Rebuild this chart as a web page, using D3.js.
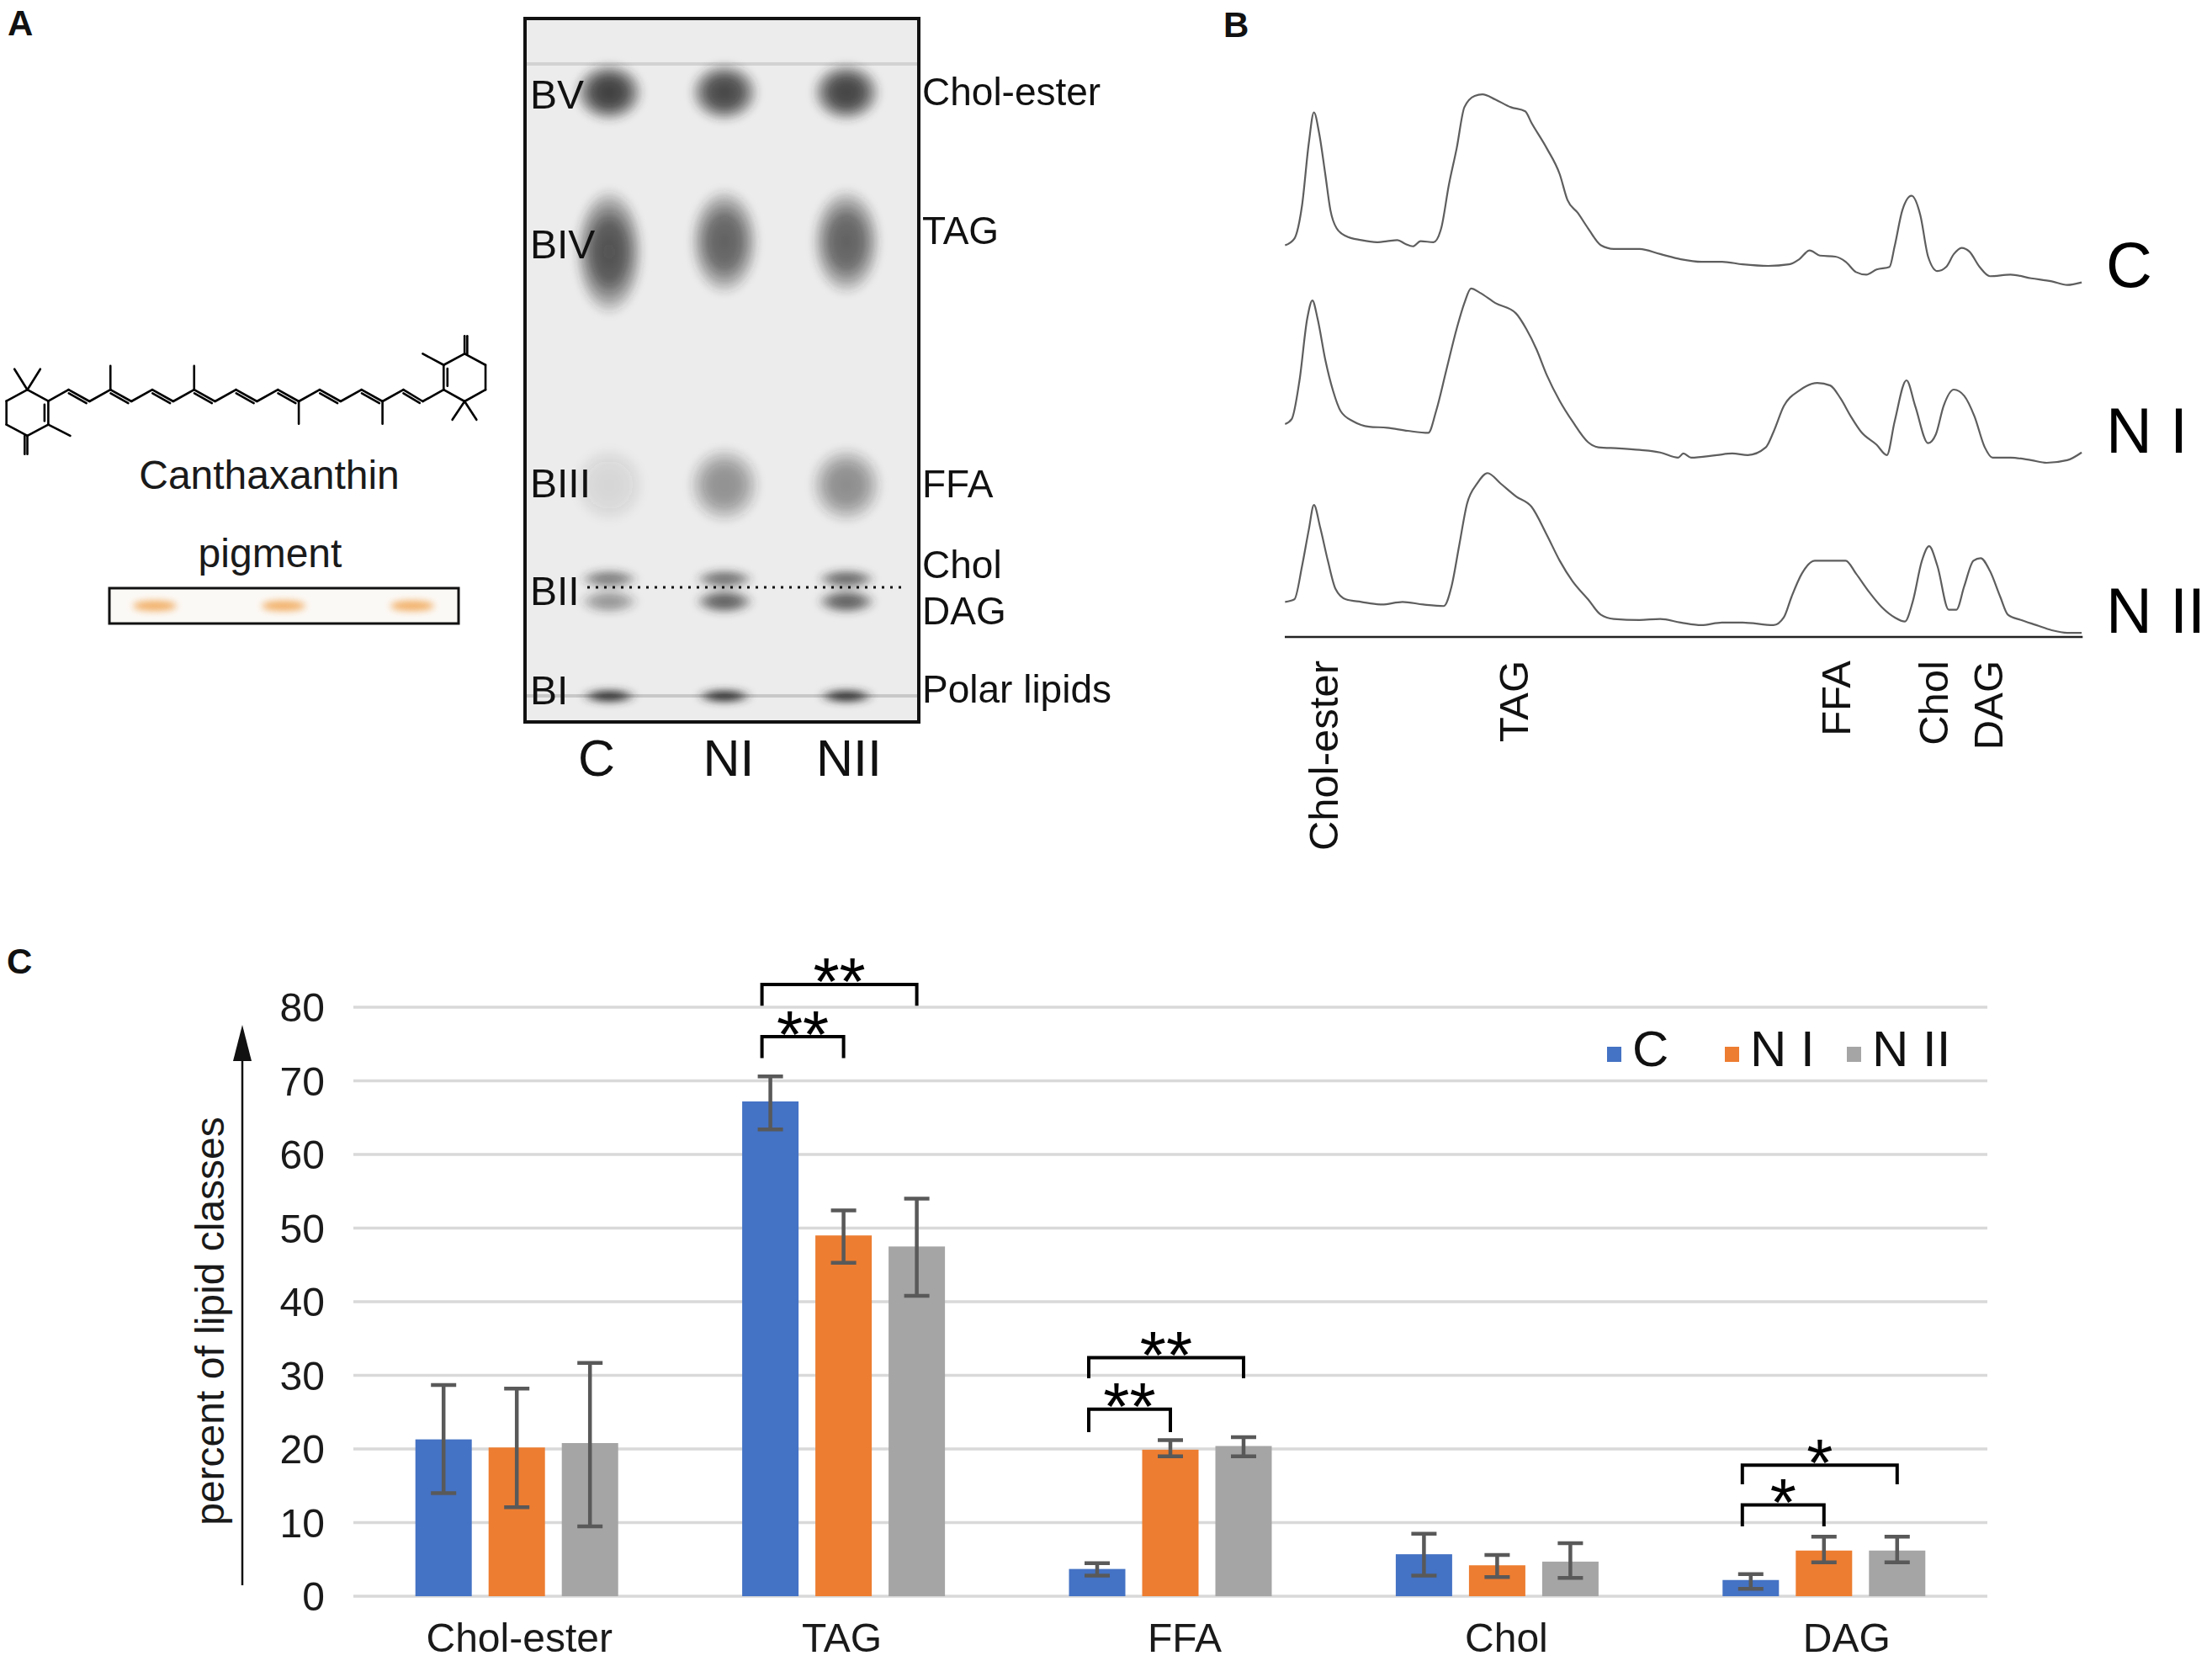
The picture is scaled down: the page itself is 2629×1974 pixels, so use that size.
<!DOCTYPE html>
<html><head><meta charset="utf-8">
<script src="https://cdn.jsdelivr.net/npm/d3@7"></script>
<style>
body{margin:0;background:#fff}
svg{display:block}
text{font-family:"Liberation Sans",Arial,Helvetica,sans-serif}
</style>
</head><body>
<svg id="fig" width="2629" height="1974" viewBox="0 0 2629 1974"></svg>
<script>
// ================= DATA =================
// ---- Panel C: bar chart ----
const categories = ["Chol-ester", "TAG", "FFA", "Chol", "DAG"];
const groups = ["C", "N I", "N II"];
const meanC   = [21.3, 67.2, 3.7, 5.7, 2.2];
const meanNI  = [20.2, 49.0, 19.9, 4.2, 6.2];
const meanNII = [20.8, 47.5, 20.4, 4.7, 6.2];
const lowC    = [14.0, 63.4, 2.8, 2.8, 1.0];
const highC   = [28.7, 70.6, 4.5, 8.5, 3.0];
const lowNI   = [12.1, 45.3, 19.0, 2.6, 4.6];
const highNI  = [28.2, 52.4, 21.2, 5.6, 8.1];
const lowNII  = [9.5, 40.8, 19.0, 2.5, 4.6];
const highNII = [31.7, 54.0, 21.6, 7.2, 8.1];
const yTicks = [0, 10, 20, 30, 40, 50, 60, 70, 80];
const yTitle = "percent of lipid classes";
// significance brackets (C vs group)
const sigCategory = ["TAG", "TAG", "FFA", "FFA", "DAG", "DAG"];
const sigTarget   = ["N I", "N II", "N I", "N II", "N I", "N II"];
const sigLevel    = [76.0, 83.1, 25.4, 32.4, 12.4, 17.8];
const sigLegLow   = [73.1, 80.2, 22.3, 29.6, 9.5, 15.2];
const sigLabel    = ["**", "**", "**", "**", "*", "*"];

// ---- Panel B: densitometry traces (migration units, signal above own baseline) ----
const traceNames = ["C", "N I", "N II"];
const traceBaseline = [760, 410, 68];
const traceCx = [12,30,45,58,68,78,90,100,112,130,160,190,210,230,245,260,275,300,315,330,345,360,380,395,420,450,478,490,520,545,560,580,600,625,650,700,740,780,820,860,900,950,990,1010,1030,1050,1080,1100,1120,1140,1160,1185,1195,1210,1228,1245,1260,1278,1295,1310,1325,1340,1360,1380,1420,1460,1500,1530,1558];
const traceCy = [0,13,78,198,258,218,138,68,33,18,10,6,8,10,3,-2,8,6,33,118,188,268,290,293,283,268,260,238,188,138,88,63,33,0,-7,-7,-17,-27,-32,-32,-37,-40,-37,-27,-10,-20,-22,-32,-52,-57,-47,-42,-2,68,96,58,-22,-50,-42,-17,-5,-12,-42,-60,-57,-64,-70,-77,-72];
const traceNIx = [12,25,40,55,65,75,90,105,120,145,175,210,250,290,305,325,345,360,373,390,420,460,480,500,520,545,570,600,620,660,700,740,775,785,800,850,880,910,945,960,980,1010,1045,1070,1090,1110,1130,1160,1180,1195,1218,1235,1260,1275,1290,1310,1330,1350,1370,1385,1420,1460,1490,1530,1558];
const traceNIy = [3,13,88,208,243,208,128,68,28,8,-2,-4,-10,-14,28,108,188,238,266,258,238,218,188,148,98,48,8,-32,-42,-44,-47,-52,-62,-54,-62,-57,-54,-57,-42,-12,38,68,83,78,53,18,-12,-37,-57,8,88,38,-34,-17,38,70,58,18,-42,-62,-62,-67,-72,-67,-52];
const traceNIIx = [12,30,45,58,68,80,95,110,130,160,200,240,280,320,335,350,365,385,405,430,460,490,520,545,570,600,625,650,700,740,780,820,860,900,960,980,995,1015,1040,1070,1100,1120,1145,1170,1195,1215,1230,1248,1262,1278,1300,1315,1330,1348,1362,1380,1400,1415,1440,1470,1500,1530,1558];
const traceNIIy = [0,5,70,140,188,145,80,25,5,0,-5,0,-5,-8,30,110,190,230,250,230,205,185,130,80,40,5,-25,-33,-35,-33,-40,-45,-40,-40,-45,-30,10,55,80,80,80,55,20,-10,-30,-38,0,80,108,70,-15,-15,30,80,85,60,10,-25,-35,-45,-55,-60,-60];
const traceLabels = ["Chol-ester", "TAG", "FFA", "Chol", "DAG"];
const traceLabelPos = [85, 455, 1080, 1270, 1375];

// ---- Panel A: TLC plate ----
const lanes = ["C", "NI", "NII"];
const tlcBands = ["Chol-ester", "TAG", "FFA", "Chol", "DAG", "Polar lipids"];
const tlcRf = [0.955, 0.718, 0.332, 0.183, 0.147, -0.003];
const tlcIntensityC   = [0.92, 0.82, 0.12, 0.58, 0.45, 1.00];
const tlcIntensityNI  = [0.88, 0.74, 0.48, 0.64, 0.74, 1.00];
const tlcIntensityNII = [0.90, 0.74, 0.50, 0.68, 0.74, 1.00];
const tlcLeftLabels = ["BV", "BIV", "BIII", "BII", "BI"];
const tlcLeftRf = [0.952, 0.714, 0.336, 0.165, 0.007];
const tlcRightRf = [0.957, 0.736, 0.334, 0.206, 0.133, 0.009];
const pigmentLanes = ["C", "NI", "NII"];

// ---- Canthaxanthin skeletal structure (drawing units) ----
const atomIds = ["a1","a2","a3","a4","a5","a6","m1","m2","m0","o1",
  "c1","c2","c3","m3","c4","c5","c6","c7","m4","c8","c9","c10","c11","c12","m5","c13","c14","c15","c16","m6","c17","c18",
  "b2","b3","b4","b5","b6","b1","m7","o2","g1","g2"];
const atomX = [85,150,150,85,20,20,45,125,218,85,
  213,278,343,343,408,473,538,603,603,668,733,798,863,928,928,993,1058,1123,1188,1188,1253,1313,
  1378,1378,1443,1508,1508,1443,1313,1443,1405,1480];
const atomY = [322,357,430,465,430,357,258,258,465,522,
  322,358,322,248,358,322,358,322,248,358,322,358,322,358,428,322,358,322,358,428,322,358,
  322,245,210,245,322,358,210,155,415,415];
const bondFrom = ["a1","a2","a3","a4","a5","a6","a1","a1","a3","a4","a2","c1","c2","c3","c3","c4","c5","c6","c7","c7","c8","c9","c10","c11","c12","c12","c13","c14","c15","c16","c16","c17","c18","b2","b3","b4","b5","b6","b1","b3","b4","b1","b1"];
const bondTo   = ["a2","a3","a4","a5","a6","a1","m1","m2","m0","o1","c1","c2","c3","m3","c4","c5","c6","c7","m4","c8","c9","c10","c11","c12","m5","c13","c14","c15","c16","m6","c17","c18","b2","b3","b4","b5","b6","b1","b2","m7","o2","g1","g2"];
const bondOrder= [1,2,1,1,1,1,1,1,1,2,1,2,1,1,2,1,2,1,1,2,1,2,1,2,1,1,2,1,2,1,1,2,1,2,1,1,1,1,1,1,2,1,1];

// ================= DRAWING =================
const svg = d3.select("#fig");
const defs = svg.append("defs");
function blur(id, s) {
  defs.append("filter").attr("id", id)
    .attr("x", "-100%").attr("y", "-200%").attr("width", "300%").attr("height", "500%")
    .append("feGaussianBlur").attr("stdDeviation", s);
}
blur("bl4", 4);
defs.append("filter").attr("id", "soft").attr("filterUnits", "userSpaceOnUse")
  .attr("x", 600).attr("y", 0).attr("width", 520).attr("height", 900)
  .append("feGaussianBlur").attr("stdDeviation", 4);
// soft spot gradient
const grad = defs.append("radialGradient").attr("id", "spot");
[[0, 1], [0.45, 0.9], [0.75, 0.45], [1, 0]].forEach(([o, a]) =>
  grad.append("stop").attr("offset", o).attr("stop-color", "#2e2e2e").attr("stop-opacity", a));

function label(g, txt, x, y, size, opts = {}) {
  return g.append("text").attr("x", x).attr("y", y)
    .attr("font-size", size).attr("fill", opts.fill || "#111")
    .attr("font-weight", opts.weight || "normal")
    .attr("text-anchor", opts.anchor || "start")
    .text(txt);
}

// Panel letters
const panelLetters = svg.append("g");
label(panelLetters, "A", 9, 42, 42, {weight: "bold"});
label(panelLetters, "B", 1454, 44, 42, {weight: "bold"});
label(panelLetters, "C", 8, 1157, 42, {weight: "bold"});

// ---------- Panel A ----------
const gA = svg.append("g");
// molecule
const mx = d3.scaleLinear().domain([0, 1568]).range([0, 600]);
const my = d3.scaleLinear().domain([0, 1568]).range([340, 940]);
const atomIndex = new Map(atomIds.map((id, i) => [id, i]));
const ringCenters = {a: [85, 393], b: [1443, 284]};
const gMol = gA.append("g").attr("stroke", "#000").attr("stroke-width", 2.6).attr("stroke-linecap", "round");
bondFrom.forEach((f, k) => {
  const i = atomIndex.get(f), j = atomIndex.get(bondTo[k]);
  const x1 = mx(atomX[i]), y1 = my(atomY[i]), x2 = mx(atomX[j]), y2 = my(atomY[j]);
  gMol.append("line").attr("x1", x1).attr("y1", y1).attr("x2", x2).attr("y2", y2);
  if (bondOrder[k] === 2) {
    const dx = x2 - x1, dy = y2 - y1, L = Math.hypot(dx, dy);
    let nx = -dy / L, ny = dx / L;
    const isRing = (f[0] === "a" || f[0] === "b") && (bondTo[k][0] === "a" || bondTo[k][0] === "b");
    const isCO = bondTo[k][0] === "o";
    let off, shrink;
    if (isRing) {
      const c = ringCenters[f[0]];
      const mxp = (x1 + x2) / 2, myp = (y1 + y2) / 2;
      const toC = [mx(c[0]) - mxp, my(c[1]) - myp];
      if (nx * toC[0] + ny * toC[1] < 0) { nx = -nx; ny = -ny; }
      off = 4.5; shrink = 0.15;
    } else if (isCO) {
      off = 3.2; shrink = 0.0;
    } else {
      if (ny < 0) { nx = -nx; ny = -ny; }
      off = 3.6; shrink = 0.08;
    }
    gMol.append("line")
      .attr("x1", x1 + nx * off + dx * shrink).attr("y1", y1 + ny * off + dy * shrink)
      .attr("x2", x2 + nx * off - dx * shrink).attr("y2", y2 + ny * off - dy * shrink);
  }
});
label(gA, "Canthaxanthin", 320, 581, 48, {anchor: "middle", fill: "#1a1a1a"});
label(gA, "pigment", 321, 674, 48, {anchor: "middle", fill: "#1a1a1a"});
// pigment strip
const pigX = d3.scalePoint().domain(pigmentLanes).range([184, 490]);
gA.append("rect").attr("x", 130).attr("y", 699).attr("width", 415).attr("height", 42)
  .attr("fill", "#fbf9f6").attr("stroke", "#111").attr("stroke-width", 3);
gA.append("g").selectAll("ellipse").data(pigmentLanes).join("ellipse")
  .attr("cx", d => pigX(d)).attr("cy", 720).attr("rx", 26).attr("ry", 6)
  .attr("fill", "#f0a048").attr("opacity", 0.85).attr("filter", "url(#bl4)");

// TLC plate
const rf = d3.scaleLinear().domain([0, 1]).range([825, 76]);
const laneX = d3.scaleOrdinal().domain(lanes).range([724, 861, 1006]);
gA.append("rect").attr("x", 624).attr("y", 22).attr("width", 468).attr("height", 836)
  .attr("fill", "#ececec");
gA.append("line").attr("x1", 626).attr("x2", 1090).attr("y1", rf(1)).attr("y2", rf(1))
  .attr("stroke", "#d2d2d2").attr("stroke-width", 4);
gA.append("line").attr("x1", 626).attr("x2", 1090).attr("y1", rf(0) + 2).attr("y2", rf(0) + 2)
  .attr("stroke", "#c8c8c8").attr("stroke-width", 4);
const spotShape = {
  "Chol-ester":   {rx: 42, ry: 36, dy: 0},
  "TAG":          {rx: 42, ry: 64, dy: 0},
  "FFA":          {rx: 44, ry: 46, dy: 0},
  "Chol":         {rx: 36, ry: 12, dy: 0},
  "DAG":          {rx: 36, ry: 15, dy: 0},
  "Polar lipids": {rx: 34, ry: 9, dy: 0}
};
const intensities = {C: tlcIntensityC, NI: tlcIntensityNI, NII: tlcIntensityNII};
const spots = [];
lanes.forEach(l => tlcBands.forEach((b, i) => spots.push({lane: l, band: b, rf: tlcRf[i], v: intensities[l][i]})));
const tall = d => (d.band === "TAG" && d.lane === "C") ? 12 : 0;
gA.append("g").attr("filter", "url(#soft)").selectAll("ellipse").data(spots).join("ellipse")
  .attr("cx", d => laneX(d.lane))
  .attr("cy", d => rf(d.rf) + spotShape[d.band].dy + tall(d))
  .attr("rx", d => spotShape[d.band].rx)
  .attr("ry", d => spotShape[d.band].ry + tall(d))
  .attr("fill", "url(#spot)")
  .attr("opacity", d => d.v);
gA.append("rect").attr("x", 624).attr("y", 22).attr("width", 468).attr("height", 836)
  .attr("fill", "none").attr("stroke", "#111").attr("stroke-width", 4);
// dotted line through BII
gA.append("line").attr("x1", 698).attr("x2", 1072).attr("y1", 698).attr("y2", 698)
  .attr("stroke", "#111").attr("stroke-width", 3).attr("stroke-dasharray", "3,7");
// band labels
gA.append("g").selectAll("text").data(tlcLeftLabels).join("text")
  .attr("x", 630).attr("y", (d, i) => rf(tlcLeftRf[i])).attr("dy", "0.36em")
  .attr("font-size", 48).attr("fill", "#111").text(d => d);
gA.append("g").selectAll("text").data(tlcBands).join("text")
  .attr("x", 1096).attr("y", (d, i) => rf(tlcRightRf[i])).attr("dy", "0.36em")
  .attr("font-size", 46).attr("fill", "#111").text(d => d);
gA.append("g").selectAll("text").data(lanes).join("text")
  .attr("x", (d, i) => [709, 866, 1009][i]).attr("y", 922)
  .attr("text-anchor", "middle").attr("font-size", 61).attr("fill", "#111").text(d => d);

// ---------- Panel B ----------
const gB = svg.append("g");
const xB = d3.scaleLinear().domain([0, 1560]).range([1520, 2475.3]);
const yB = d3.scaleLinear().domain([0, 1138]).range([757, 60]);
const traces = [
  {name: "C", xs: traceCx, ys: traceCy},
  {name: "N I", xs: traceNIx, ys: traceNIy},
  {name: "N II", xs: traceNIIx, ys: traceNIIy}
];
const lineB = d3.line().x(d => xB(d[0])).y(d => yB(d[1])).curve(d3.curveMonotoneX);
traces.forEach((t, k) => {
  const pts = t.xs.map((x, i) => [x, traceBaseline[k] + t.ys[i]]);
  gB.append("path").attr("d", lineB(pts)).attr("fill", "none")
    .attr("stroke", "#5e5e5e").attr("stroke-width", 2.2).attr("stroke-linejoin", "round");
});
gB.append("line").attr("x1", xB(0) + 7).attr("x2", xB(1560)).attr("y1", yB(0)).attr("y2", yB(0))
  .attr("stroke", "#222").attr("stroke-width", 2.5);
gB.append("g").selectAll("text").data(traceLabels).join("text")
  .attr("transform", (d, i) => `translate(${xB(traceLabelPos[i])},785) rotate(-90)`)
  .attr("text-anchor", "end").attr("dy", "0.36em")
  .attr("font-size", 49).attr("fill", "#111").text(d => d);
const traceLabelY = [314, 511, 725];
gB.append("g").selectAll("text").data(traceNames).join("text")
  .attr("x", 2503).attr("y", (d, k) => traceLabelY[k]).attr("dy", "0.36em")
  .attr("font-size", 76).attr("fill", "#000").text(d => d);

// ---------- Panel C ----------
const gC = svg.append("g");
const x0 = d3.scaleBand().domain(categories).range([420, 2362]);
const x1 = d3.scalePoint().domain(groups).range([-87, 87]);
const y = d3.scaleLinear().domain([0, 80]).range([1897, 1197]);
const colors = {"C": "#4472C4", "N I": "#ED7D31", "N II": "#A5A5A5"};
const means = {"C": meanC, "N I": meanNI, "N II": meanNII};
const lows = {"C": lowC, "N I": lowNI, "N II": lowNII};
const highs = {"C": highC, "N I": highNI, "N II": highNII};
const cx = (cat, grp) => x0(cat) + x0.bandwidth() / 2 + x1(grp);

// gridlines
gC.append("g").selectAll("line").data(yTicks).join("line")
  .attr("x1", 420).attr("x2", 2362).attr("y1", d => y(d)).attr("y2", d => y(d))
  .attr("stroke", "#d9d9d9").attr("stroke-width", 3.5);
// tick labels
gC.append("g").selectAll("text").data(yTicks).join("text")
  .attr("x", 386).attr("y", d => y(d)).attr("dy", "0.36em")
  .attr("text-anchor", "end").attr("font-size", 48).attr("fill", "#1a1a1a").text(d => d);
// axis arrow
gC.append("line").attr("x1", 288).attr("x2", 288).attr("y1", 1884).attr("y2", 1245)
  .attr("stroke", "#111").attr("stroke-width", 2.5);
gC.append("path").attr("d", "M288,1218 L277,1261 L299,1261 Z").attr("fill", "#111");
// axis title
gC.append("text").attr("transform", "translate(249,1570) rotate(-90)")
  .attr("text-anchor", "middle").attr("dy", "0.36em")
  .attr("font-size", 48).attr("fill", "#1a1a1a").text(yTitle);

// bars
const barData = [];
categories.forEach((c, i) => groups.forEach(g => barData.push({cat: c, grp: g, v: means[g][i], lo: lows[g][i], hi: highs[g][i]})));
gC.append("g").selectAll("rect").data(barData).join("rect")
  .attr("x", d => cx(d.cat, d.grp) - 33.5).attr("width", 67)
  .attr("y", d => y(d.v)).attr("height", d => y(0) - y(d.v))
  .attr("fill", d => colors[d.grp]);
// error bars
const eb = gC.append("g").attr("stroke", "#595959").attr("stroke-width", 4.5);
eb.selectAll("path").data(barData).join("path")
  .attr("fill", "none")
  .attr("d", d => {
    const xc = cx(d.cat, d.grp);
    return `M${xc},${y(d.lo)}V${y(d.hi)}M${xc - 15},${y(d.hi)}H${xc + 15}M${xc - 15},${y(d.lo)}H${xc + 15}`;
  });
// category labels (hand-placed in the original, slightly right of group centre for the last three)
const catLabelShift = [3, -2, 17, 11, 27];
gC.append("g").selectAll("text").data(categories).join("text")
  .attr("x", (d, i) => x0(d) + x0.bandwidth() / 2 + catLabelShift[i]).attr("y", 1963)
  .attr("text-anchor", "middle").attr("font-size", 48).attr("fill", "#1a1a1a").text(d => d);

// significance brackets
const sig = sigCategory.map((c, i) => ({cat: c, to: sigTarget[i], lvl: sigLevel[i], leg: sigLegLow[i], lab: sigLabel[i]}));
gC.append("g").selectAll("path").data(sig).join("path")
  .attr("fill", "none").attr("stroke", "#000").attr("stroke-width", 4)
  .attr("d", d => {
    const xa = cx(d.cat, "C") - 10, xb = cx(d.cat, d.to);
    return `M${xa},${y(d.leg)}V${y(d.lvl)}H${xb}V${y(d.leg)}`;
  });
gC.append("g").selectAll("text").data(sig).join("text")
  .attr("x", d => (cx(d.cat, "C") - 10 + cx(d.cat, d.to)) / 2)
  .attr("y", d => y(d.lvl) - 21).attr("dy", "0.57em")
  .attr("text-anchor", "middle").attr("font-size", 80).attr("fill", "#000").text(d => d.lab);

// legend
const legX = [1910, 2050, 2195];
const leg = gC.append("g").selectAll("g").data(groups).join("g");
leg.append("rect").attr("x", (d, i) => legX[i]).attr("y", 1244).attr("width", 17).attr("height", 18)
  .attr("fill", d => colors[d]);
leg.append("text").attr("x", (d, i) => legX[i] + 30).attr("y", 1267)
  .attr("font-size", 60).attr("fill", "#111").text(d => d);
</script>
</body></html>
